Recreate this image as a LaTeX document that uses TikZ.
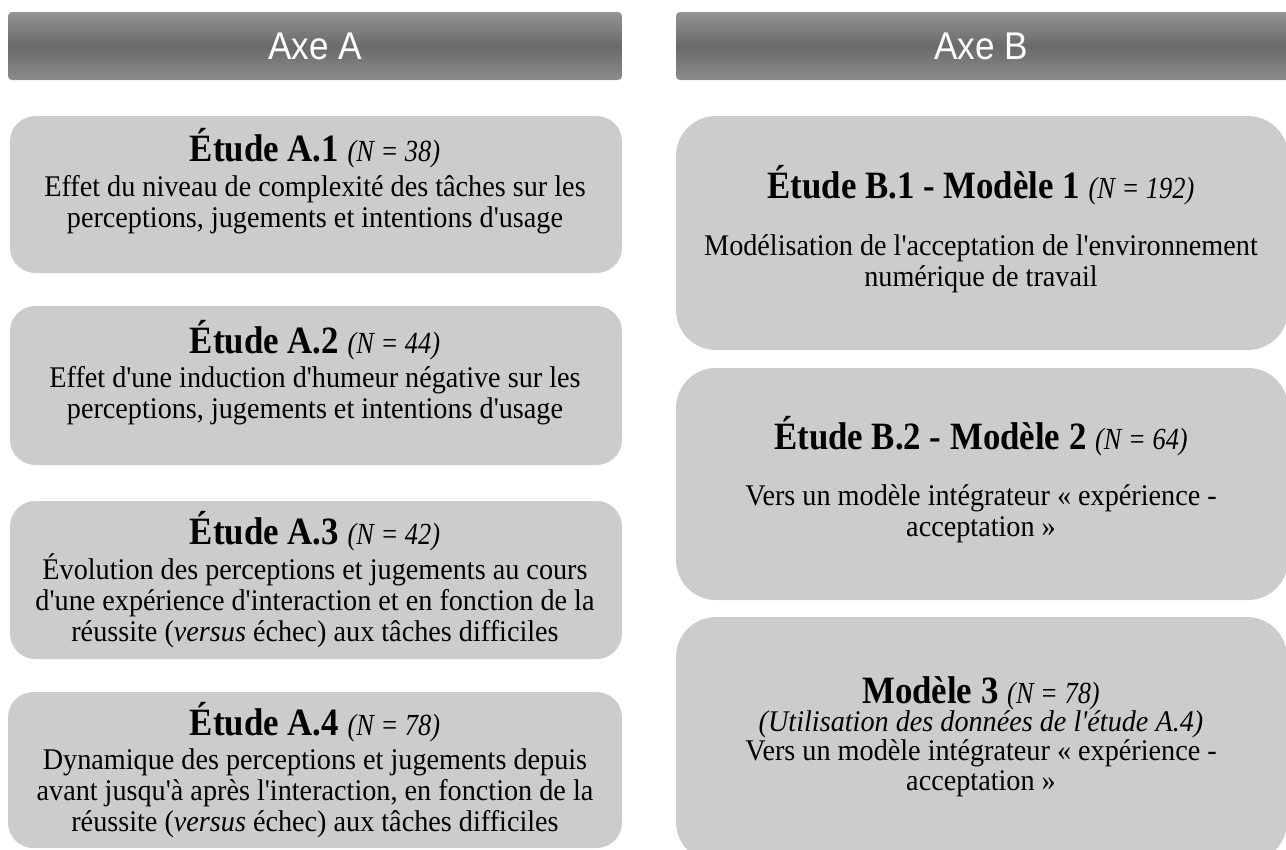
\documentclass[tikz,border=0pt]{standalone}
\usepackage{fontspec}
\setmainfont{Liberation Serif}[Ligatures=TeXOff,FakeStretch=0.94]
\newfontfamily\titrefont{Liberation Serif}[Ligatures=TeXOff,FakeStretch=0.9]
\newfontfamily\effectiffont{Liberation Serif}[Ligatures=TeXOff,FakeStretch=0.86]
\newfontfamily\axefont{Liberation Sans}[FakeStretch=0.91]
\definecolor{boxgray}{RGB}{204,204,204}
\definecolor{bartop}{RGB}{148,148,148}
\definecolor{barmid}{RGB}{106,106,106}
\definecolor{barbot}{RGB}{140,140,140}
\newcommand{\titre}[2]{{\titrefont\bfseries\fontsize{29}{32}\selectfont #1\ }{\effectiffont\itshape\fontsize{23}{26}\selectfont (#2)}}

\begin{document}
\begin{tikzpicture}[x=0.75pt,y=-0.75pt,
  axe/.style={shading=axis,top color=bartop,bottom color=barbot,middle color=barmid,rounded corners=3pt},
  etudeA/.style={fill=boxgray,rounded corners=19pt},
  etudeB/.style={fill=boxgray,rounded corners=30pt},
  entete/.style={font=\axefont\fontsize{29}{32}\selectfont,text=white},
  corps/.style={align=center,inner sep=0pt,font=\fontsize{22.5}{23.4}\selectfont}]
\useasboundingbox (0,0) rectangle (1286,850);
% bandeaux
\shade [axe] (8,12) rectangle (622,80);
\shade [axe] (676,12) rectangle (1292,80);
\node [entete] (axeA) at (315,46) {Axe A};
\node [entete] (axeB) at (981,46) {Axe B};
% axe A
\fill [etudeA] (10,116) rectangle (622,273);
\fill [etudeA] (10,306) rectangle (622,465);
\fill [etudeA] (10,501) rectangle (622,659);
\fill [etudeA] (8,692) rectangle (622,848);
\node [inner sep=0pt] (a1t) at (315,148) {\titre{Étude A.1}{N = 38}};
\node [corps] (a1c) at (315,204.5) {Effet du niveau de complexité des tâches sur les\\perceptions, jugements et intentions d'usage};
\node [inner sep=0pt] (a2t) at (315,340) {\titre{Étude A.2}{N = 44}};
\node [corps] (a2c) at (315,395.5) {Effet d'une induction d'humeur négative sur les\\perceptions, jugements et intentions d'usage};
\node [inner sep=0pt] (a3t) at (315,531) {\titre{Étude A.3}{N = 42}};
\node [corps] (a3c) at (315,601) {Évolution des perceptions et jugements au cours\\d'une expérience d'interaction et en fonction de la\\réussite (\textit{versus} échec) aux tâches difficiles};
\node [inner sep=0pt] (a4t) at (315,722) {\titre{Étude A.4}{N = 78}};
\node [corps] (a4c) at (315,793) {Dynamique des perceptions et jugements depuis\\avant jusqu'à après l'interaction, en fonction de la\\réussite (\textit{versus} échec) aux tâches difficiles};
% axe B
\fill [etudeB] (676,116) rectangle (1288,350);
\fill [etudeB] (676,368) rectangle (1288,600);
\fill [etudeB] (676,617) rectangle (1287,862);
\node [inner sep=0pt] (b1t) at (981,185) {\titre{Étude B.1 - Modèle 1}{N = 192}};
\node [corps] (b1c) at (981,263.5) {Modélisation de l'acceptation de l'environnement\\numérique de travail};
\node [inner sep=0pt] (b2t) at (981,436) {\titre{Étude B.2 - Modèle 2}{N = 64}};
\node [corps] (b2c) at (981,513.5) {Vers un modèle intégrateur « expérience -\\acceptation »};
\node [inner sep=0pt] (m3t) at (981,693) {\titre{Modèle 3}{N = 78}};
\node [corps,font=\fontsize{22.5}{22}\selectfont] (m3c) at (981,753.5) {\textit{(Utilisation des données de l'étude A.4)}\\Vers un modèle intégrateur « expérience -\\acceptation »};
\end{tikzpicture}
\end{document}
